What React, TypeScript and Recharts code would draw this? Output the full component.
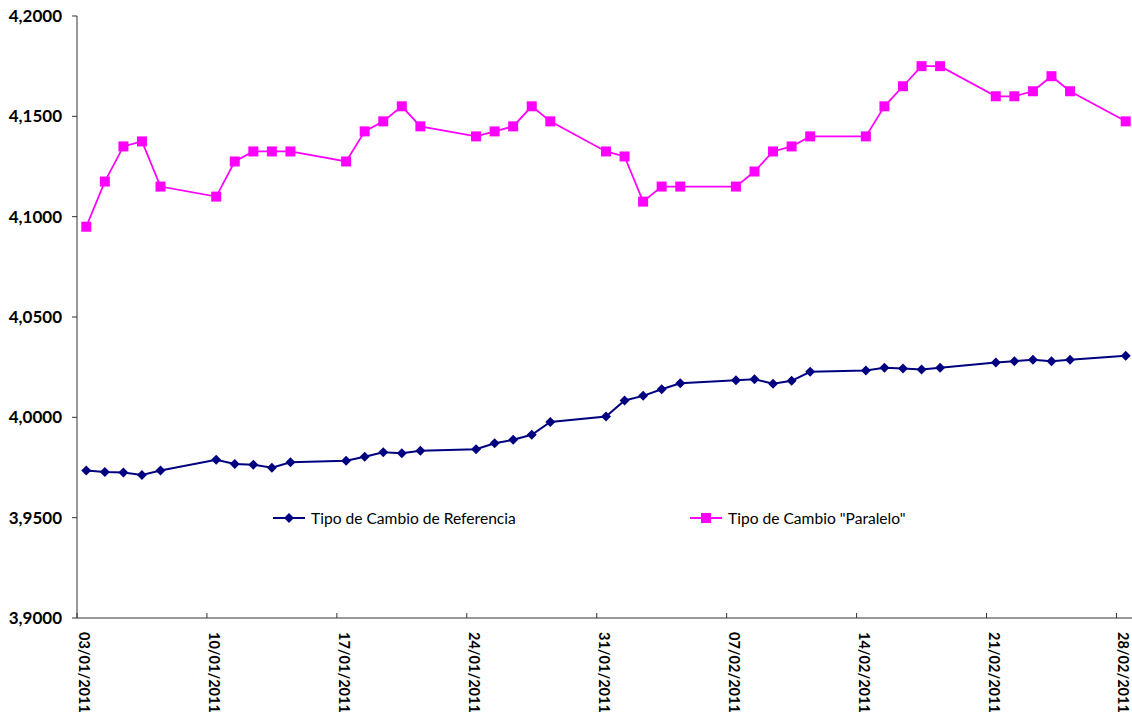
import { LineChart, Line, XAxis, YAxis, Legend } from 'recharts'

// días hábiles de enero y febrero 2011
const FECHAS = [
  '03/01/2011', '04/01/2011', '05/01/2011', '06/01/2011', '07/01/2011',
  '10/01/2011', '11/01/2011', '12/01/2011', '13/01/2011', '14/01/2011',
  '17/01/2011', '18/01/2011', '19/01/2011', '20/01/2011', '21/01/2011',
  '24/01/2011', '25/01/2011', '26/01/2011', '27/01/2011', '28/01/2011',
  '31/01/2011', '01/02/2011', '02/02/2011', '03/02/2011', '04/02/2011',
  '07/02/2011', '08/02/2011', '09/02/2011', '10/02/2011', '11/02/2011',
  '14/02/2011', '15/02/2011', '16/02/2011', '17/02/2011', '18/02/2011',
  '21/02/2011', '22/02/2011', '23/02/2011', '24/02/2011', '25/02/2011',
  '28/02/2011',
]

const REFERENCIA = [
  3.9735, 3.9728, 3.9725, 3.9713, 3.9735,
  3.9788, 3.9768, 3.9764, 3.9749, 3.9776,
  3.9784, 3.9804, 3.9826, 3.9821, 3.9833,
  3.9841, 3.9871, 3.9888, 3.9913, 3.9977,
  4.0004, 4.0084, 4.0107, 4.014, 4.017,
  4.0185, 4.019, 4.0167, 4.0182, 4.0227,
  4.0233, 4.0247, 4.0243, 4.0238, 4.0247,
  4.0273, 4.028, 4.0287, 4.028, 4.0287,
  4.0307,
]

const PARALELO = [
  4.095, 4.1175, 4.135, 4.1375, 4.115,
  4.11, 4.1275, 4.1325, 4.1325, 4.1325,
  4.1275, 4.1425, 4.1475, 4.155, 4.145,
  4.14, 4.1425, 4.145, 4.155, 4.1475,
  4.1325, 4.13, 4.1075, 4.115, 4.115,
  4.115, 4.1225, 4.1325, 4.135, 4.14,
  4.14, 4.155, 4.165, 4.175, 4.175,
  4.16, 4.16, 4.1625, 4.17, 4.1625,
  4.1475,
]

const X_TICKS = [
  '03/01/2011', '10/01/2011', '17/01/2011', '24/01/2011', '31/01/2011',
  '07/02/2011', '14/02/2011', '21/02/2011', '28/02/2011',
]

const Y_TICKS = [3.9, 3.95, 4.0, 4.05, 4.1, 4.15, 4.2]

const AZUL = '#000080'
const ROSA = '#ff00ff'
const FONT = 'Lato, "DejaVu Sans", sans-serif'

const dayOffset = (s: string) => {
  const [d, m, y] = s.split('/').map(Number)
  return Math.round((Date.UTC(y, m - 1, d) - Date.UTC(2011, 0, 3)) / 86400000)
}

// Excel centra cada punto en su día
const data = FECHAS.map((f, i) => ({
  x: dayOffset(f) + 0.5,
  ref: REFERENCIA[i],
  par: PARALELO[i],
}))

const xTickValues = X_TICKS.map(dayOffset)

function XTick({ x, y, payload }: any) {
  const label = X_TICKS[xTickValues.indexOf(payload.value)] ?? ''
  return (
    <g>
      <line x1={x} y1={y} x2={x} y2={y - 5} stroke="#333" strokeWidth={1} />
      <g transform={`translate(${x + 2},${y + 14}) rotate(90)`}>
        <text x={0} y={0} textAnchor="start" fontFamily={FONT} fontWeight="bold" fontSize={14.5} fill="#000">
          {label}
        </text>
      </g>
    </g>
  )
}

function Diamond({ cx, cy }: any) {
  if (cx == null || cy == null) return null
  const r = 5
  return <polygon points={`${cx},${cy - r} ${cx + r},${cy} ${cx},${cy + r} ${cx - r},${cy}`} fill={AZUL} />
}

function Square({ cx, cy }: any) {
  if (cx == null || cy == null) return null
  return <rect x={cx - 5} y={cy - 5} width={10} height={10} fill={ROSA} />
}

function LegendItem({ left, color, marker, text }: { left: number; color: string; marker: 'd' | 's'; text: string }) {
  return (
    <div style={{ position: 'absolute', left, top: 0, display: 'flex', alignItems: 'center', whiteSpace: 'nowrap' }}>
      <svg width={34} height={14}>
        <line x1={1} y1={7} x2={33} y2={7} stroke={color} strokeWidth={2} />
        {marker === 'd' ? (
          <polygon points="17,2 22,7 17,12 12,7" fill={color} />
        ) : (
          <rect x={12} y={2} width={10} height={10} fill={color} />
        )}
      </svg>
      <span style={{ marginLeft: 5, fontFamily: FONT, fontSize: 15.6, color: '#000' }}>{text}</span>
    </div>
  )
}

function Leyenda() {
  return (
    <div style={{ position: 'relative', width: 1132, height: 20 }}>
      <LegendItem left={272} color={AZUL} marker="d" text="Tipo de Cambio de Referencia" />
      <LegendItem left={689} color={ROSA} marker="s" text={'Tipo de Cambio "Paralelo"'} />
    </div>
  )
}

export default function App() {
  return (
    <div style={{ position: 'absolute', left: 0, top: 0, width: 1132, height: 713, overflow: 'hidden', background: '#fff' }}>
      <LineChart width={1140} height={713} data={data} margin={{ top: 16, right: 5, left: 0, bottom: 0 }}>
        <XAxis
          dataKey="x"
          type="number"
          domain={[0, 57]}
          ticks={xTickValues}
          interval={0}
          height={95}
          tickLine={false}
          tickSize={0}
          tickMargin={0}
          axisLine={{ stroke: '#333', strokeWidth: 1 }}
          tick={<XTick />}
        />
        <YAxis
          type="number"
          domain={[3.9, 4.2]}
          ticks={Y_TICKS}
          interval={0}
          width={77}
          tickSize={5}
          tickMargin={10}
          axisLine={{ stroke: '#333', strokeWidth: 1 }}
          tickLine={{ stroke: '#333', strokeWidth: 1 }}
          tickFormatter={(v: number) => v.toFixed(4).replace('.', ',')}
          tick={{ fontFamily: FONT, fontWeight: 'bold', fontSize: 17, fill: '#000' }}
        />
        <Legend
          layout="vertical"
          align="center"
          verticalAlign="middle"
          wrapperStyle={{ top: 509, left: 0, width: 1132 }}
          content={() => <Leyenda />}
        />
        <Line
          dataKey="ref"
          name="Tipo de Cambio de Referencia"
          stroke={AZUL}
          strokeWidth={2}
          dot={<Diamond />}
          activeDot={false}
          isAnimationActive={false}
        />
        <Line
          dataKey="par"
          name={'Tipo de Cambio "Paralelo"'}
          stroke={ROSA}
          strokeWidth={1.75}
          dot={<Square />}
          activeDot={false}
          isAnimationActive={false}
        />
      </LineChart>
    </div>
  )
}
